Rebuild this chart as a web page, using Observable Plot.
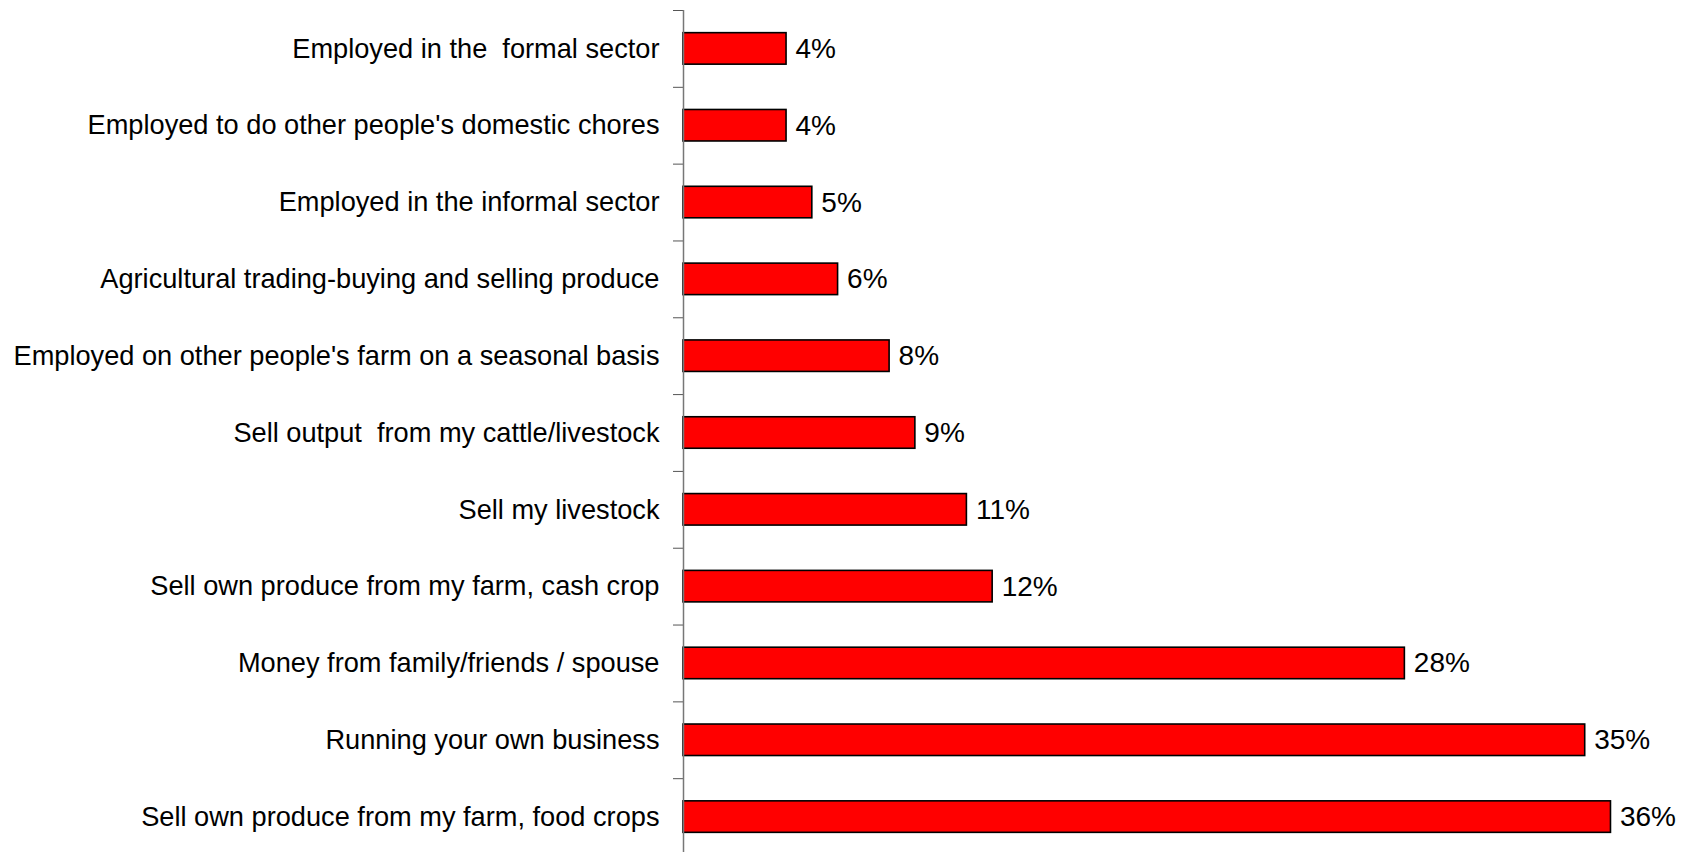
<!DOCTYPE html>
<html>
<head>
<meta charset="utf-8">
<script src="https://cdn.jsdelivr.net/npm/d3@7"></script>
<script src="https://cdn.jsdelivr.net/npm/@observablehq/plot@0.6"></script>
<style>
  html, body { margin: 0; padding: 0; background: #fff; overflow: hidden; }
  svg text { white-space: pre; }
</style>
</head>
<body>
<div id="chart"></div>
<script>
const categories = [
  "Employed in the  formal sector",
  "Employed to do other people's domestic chores",
  "Employed in the informal sector",
  "Agricultural trading-buying and selling produce",
  "Employed on other people's farm on a seasonal basis",
  "Sell output  from my cattle/livestock",
  "Sell my livestock",
  "Sell own produce from my farm, cash crop",
  "Money from family/friends / spouse",
  "Running your own business",
  "Sell own produce from my farm, food crops"
];
const values = [4, 4, 5, 6, 8, 9, 11, 12, 28, 35, 36];

const data = categories.map((c, i) => ({category: c, value: values[i]}));

const width = 1694, height = 852;
const marginTop = 10, marginBottom = -3, marginLeft = 683, marginRight = 32;
const step = (height - marginTop - marginBottom) / categories.length;

const chart = Plot.plot({
  width, height,
  marginTop, marginBottom, marginLeft, marginRight,
  style: {fontFamily: "'Liberation Sans', Arial, sans-serif", fontSize: "27px", color: "#000", background: "#fff", overflow: "hidden"},
  x: {domain: [0, 38], axis: null},
  y: {domain: categories, paddingInner: 0.59, paddingOuter: 0.295, round: false, label: null},
  marks: [
    Plot.barX(data, {x: "value", y: "category", fill: "#ff0000", stroke: "#000", strokeWidth: 1.6}),
    Plot.text(data, {x: "value", y: "category", text: d => d.value + "%", textAnchor: "start", dx: 9, fontSize: 28, fill: "#000"}),
    Plot.axisY({tickSize: 0, tickPadding: 24, fontSize: 27.2, fill: "#000", label: null}),
    Plot.axisY({text: null, tickSize: 10, dy: -step / 2, stroke: "#555", label: null}),
    Plot.ruleX([0], {stroke: "#777", strokeWidth: 1.5})
  ]
});
document.getElementById("chart").appendChild(chart);
</script>
</body>
</html>
